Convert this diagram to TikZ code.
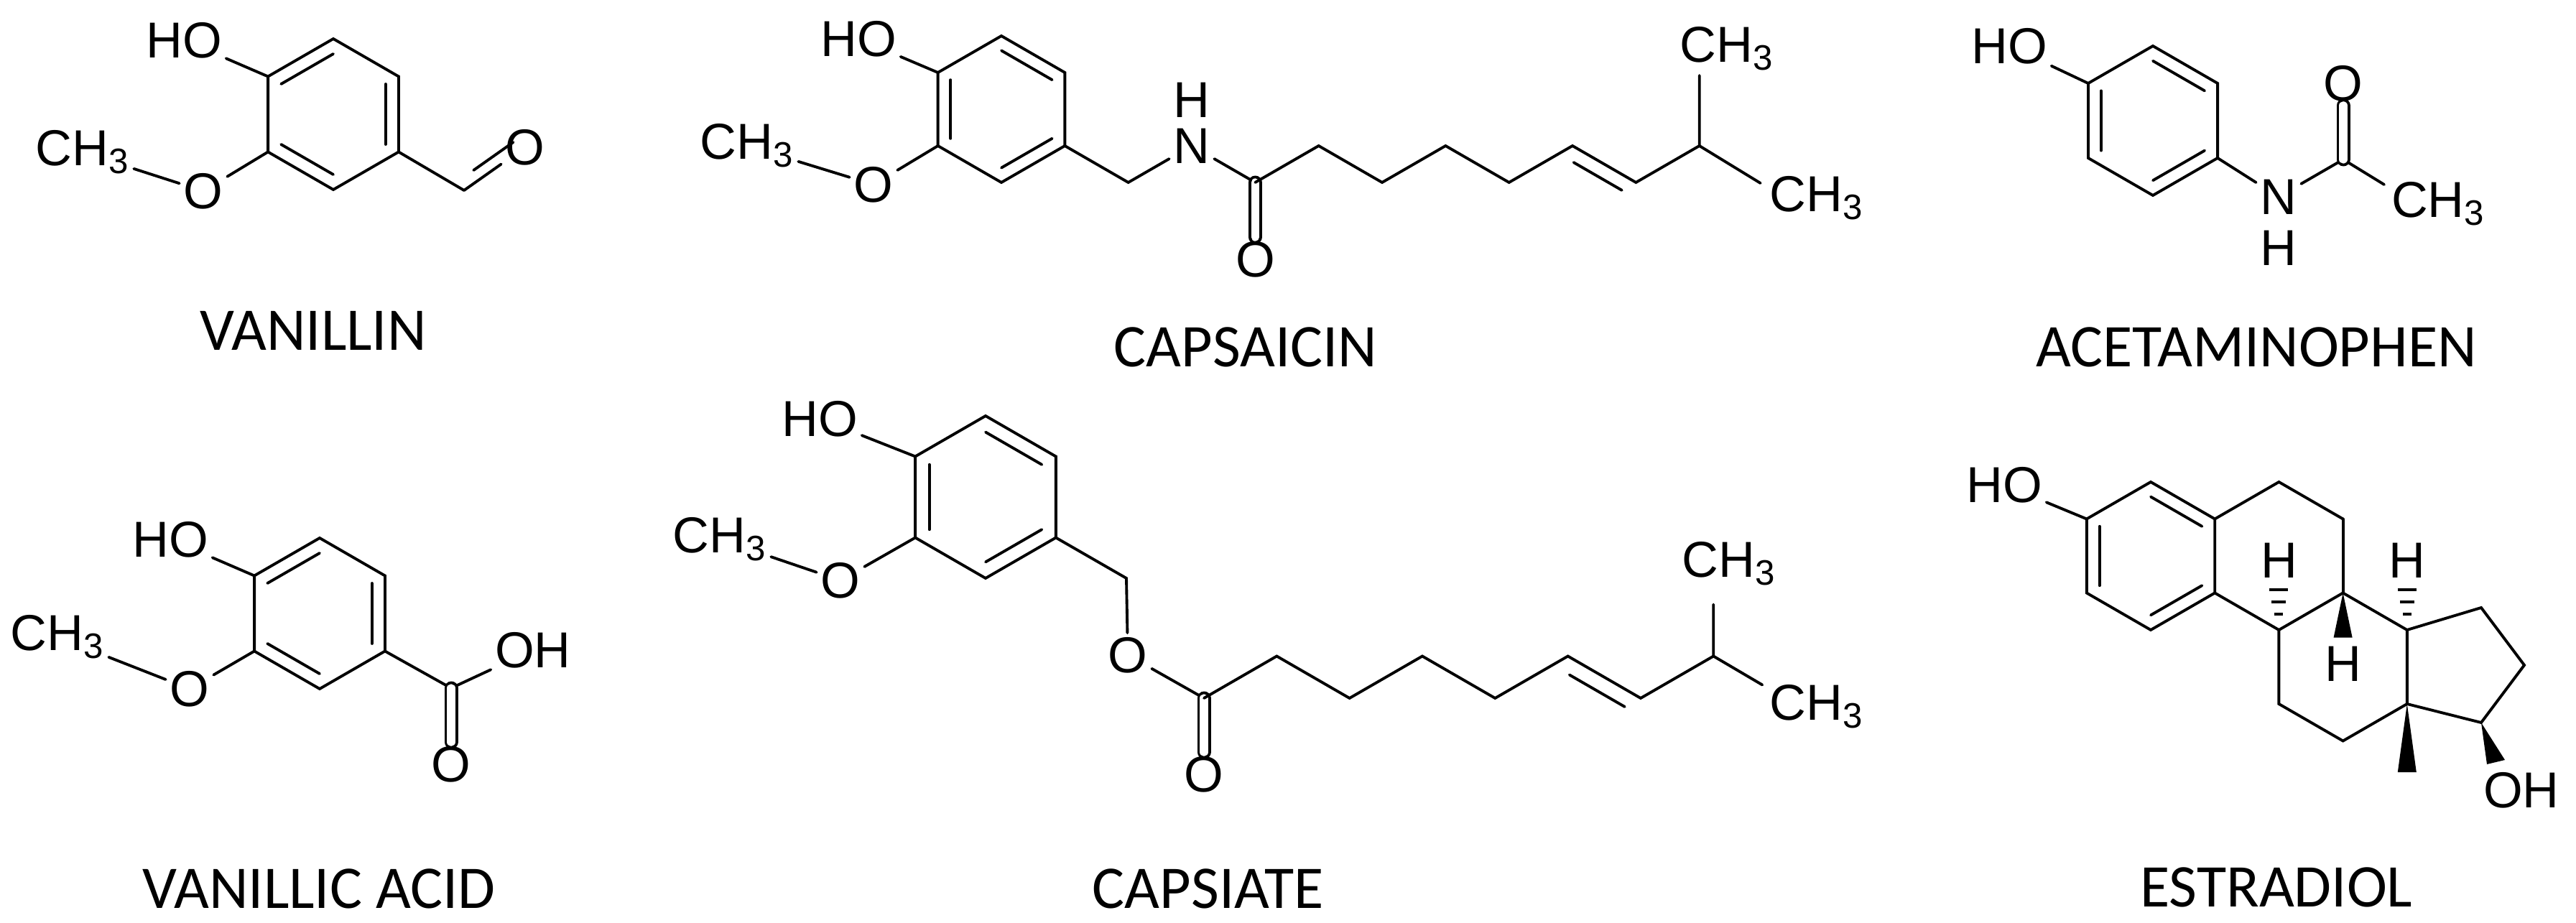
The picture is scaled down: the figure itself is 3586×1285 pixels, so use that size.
\documentclass[tikz,border=0pt]{standalone}
\usepackage{fontspec}
\setmainfont{Liberation Sans}
\newfontfamily\lblfont{Carlito}
\usetikzlibrary{calc}
\newcommand\hexr[3]{\foreach \i/\a in {1/270,2/330,3/30,4/90,5/150,6/210}{\coordinate (#1\i) at ($(#2)+(\a:#3)$);}}
\newcommand\ringdraw[1]{\draw[bond] (#11)--(#12)--(#13)--(#14)--(#15)--(#16)--cycle;}
\newcommand\innerb[3]{\draw[bond] ($(#1)!0.2!(#3)$) -- ($(#2)!0.2!(#3)$);}
\begin{document}
\begin{tikzpicture}[x=0.01cm,y=-0.01cm,
  bond/.style={line width=1.1pt,line cap=round},
  dbl/.style={bond,double,double distance=3.2pt},
  atom/.style={font=\fontsize{20}{24}\selectfont,inner sep=1.5pt},
  hatom/.style={atom,inner sep=0pt},
  lbl/.style={font=\lblfont\fontsize{24}{28}\selectfont,inner sep=0pt}]
\useasboundingbox (0,0) rectangle (3586,1285);

% ---------------- VANILLIN
\coordinate (vc) at (464,159);
\hexr{v}{vc}{105}
\ringdraw{v}
\innerb{v6}{v1}{vc}\innerb{v2}{v3}{vc}\innerb{v5}{v4}{vc}
\node[atom] (vho) at (256,56) {HO};
\node[atom] (vo) at (283,266) {O};
\node[atom] (vme) at (115,212) {CH\textsubscript{3}};
\coordinate (vcc) at (646,265);
\node[atom] (vald) at (731,205) {O};
\draw[bond] (v6) -- (vho);
\draw[bond] (v5) -- (vo);
\draw[bond] (vo) -- (vme);
\draw[bond] (v3) -- (vcc);
\draw[bond] (vcc) -- (vald);
\draw[bond] ($(vcc)!0.25!(vald)+(-8,-13)$) -- ($(vcc)!0.9!(vald)+(-8,-13)$);
\node[lbl] (lv) at (436,460) {VANILLIN};

% ---------------- VANILLIC ACID
\coordinate (ac) at (445,854);
\hexr{a}{ac}{105}
\ringdraw{a}
\innerb{a6}{a1}{ac}\innerb{a2}{a3}{ac}\innerb{a5}{a4}{ac}
\node[atom] (aho) at (237,751) {HO};
\node[atom] (ao) at (264,959) {O};
\node[atom] (ame) at (80,887) {CH\textsubscript{3}};
\coordinate (acc) at (628,958);
\node[atom] (aoh) at (742,905) {OH};
\node[atom] (aco) at (628,1064) {O};
\draw[bond] (a6) -- (aho);
\draw[bond] (a5) -- (ao);
\draw[bond] (ao) -- (ame);
\draw[bond] (a3) -- (acc);
\draw[bond] (acc) -- (aoh);
\draw[dbl] (acc) -- (aco);
\node[lbl] (la) at (444,1237) {VANILLIC ACID};

% ---------------- CAPSAICIN
\coordinate (cc) at (1394,152);
\hexr{c}{cc}{102}
\ringdraw{c}
\innerb{c1}{c2}{cc}\innerb{c5}{c6}{cc}\innerb{c3}{c4}{cc}
\node[atom] (cho) at (1195,54) {HO};
\node[atom] (co) at (1216,257) {O};
\node[atom] (cme) at (1040,203) {CH\textsubscript{3}};
\coordinate (ch2) at ($(c3)+(30:102)$);
\node[atom] (cn) at ($(ch2)+(-30:102)$) {N};
\node[hatom] (cnh) at ($(cn)+(0,-64)$) {H};
\coordinate (cq0) at ($(cn)+(30:102)$);
\node[atom] (cqo) at ($(cq0)+(0,107)$) {O};
\coordinate (cq1) at ($(cq0)+(-30:102)$);
\coordinate (cq2) at ($(cq1)+(30:102)$);
\coordinate (cq3) at ($(cq2)+(-30:102)$);
\coordinate (cq4) at ($(cq3)+(30:102)$);
\coordinate (cq5) at ($(cq4)+(-30:102)$);
\coordinate (cq6) at ($(cq5)+(30:102)$);
\coordinate (cq7) at ($(cq6)+(-30:102)$);
\coordinate (cue) at ($(cq7)+(0,-98)$);
\coordinate (cle) at ($(cq7)+(85,52)$);
\node[atom,anchor=west] (cm1) at (2333,68) {CH\textsubscript{3}};
\node[atom,anchor=west] (cm2) at (2458,276) {CH\textsubscript{3}};
\draw[bond] (c6) -- (cho);
\draw[bond] (c5) -- (co);
\draw[bond] (co) -- (cme);
\draw[bond] (c3) -- (ch2) -- (cn);
\draw[bond] (cn) -- (cq0);
\draw[dbl] (cq0) -- (cqo);
\draw[bond] (cq0) -- (cq1) -- (cq2) -- (cq3) -- (cq4) -- (cq5) -- (cq6) -- (cq7) -- (cue);
\draw[bond] (cq7) -- (cle);
\draw[bond] ($(cq5)!0.12!(cq6)+(-9,17)$) -- ($(cq5)!0.88!(cq6)+(-9,17)$);
\node[lbl] (lc) at (1734,483) {CAPSAICIN};

% ---------------- CAPSIATE
\coordinate (sc) at (1372,692);
\hexr{s}{sc}{113}
\ringdraw{s}
\innerb{s1}{s2}{sc}\innerb{s5}{s6}{sc}\innerb{s3}{s4}{sc}
\node[atom] (sho) at (1141,583) {HO};
\node[atom] (so) at (1170,808) {O};
\node[atom] (sme) at (1002,751) {CH\textsubscript{3}};
\coordinate (sh2) at (1568,805);
\node[atom] (seo) at (1570,912) {O};
\coordinate (sq0) at (1676,972);
\node[atom] (sqo) at (1676,1078) {O};
\coordinate (sq1) at ($(sq0)+(-30:117)$);
\coordinate (sq2) at ($(sq1)+(30:117)$);
\coordinate (sq3) at ($(sq2)+(-30:117)$);
\coordinate (sq4) at ($(sq3)+(30:117)$);
\coordinate (sq5) at ($(sq4)+(-30:117)$);
\coordinate (sq6) at ($(sq5)+(30:117)$);
\coordinate (sq7) at ($(sq6)+(-30:117)$);
\coordinate (sue) at ($(sq7)+(0,-72)$);
\coordinate (sle) at ($(sq7)+(68,40)$);
\node[atom,anchor=west] (sm1) at (2336,785) {CH\textsubscript{3}};
\node[atom,anchor=west] (sm2) at (2458,984) {CH\textsubscript{3}};
\draw[bond] (s6) -- (sho);
\draw[bond] (s5) -- (so);
\draw[bond] (so) -- (sme);
\draw[bond] (s3) -- (sh2) -- (seo);
\draw[bond] (seo) -- (sq0);
\draw[dbl] (sq0) -- (sqo);
\draw[bond] (sq0) -- (sq1) -- (sq2) -- (sq3) -- (sq4) -- (sq5) -- (sq6) -- (sq7) -- (sue);
\draw[bond] (sq7) -- (sle);
\draw[bond] ($(sq5)!0.12!(sq6)+(-10,19)$) -- ($(sq5)!0.88!(sq6)+(-10,19)$);
\node[lbl] (ls) at (1682,1237) {CAPSIATE};

% ---------------- ACETAMINOPHEN
\coordinate (pc) at (2997,168);
\hexr{p}{pc}{104}
\ringdraw{p}
\innerb{p1}{p2}{pc}\innerb{p5}{p6}{pc}\innerb{p3}{p4}{pc}
\node[atom] (pho) at (2797,64) {HO};
\node[atom] (pn) at (3172,274) {N};
\node[hatom] (pnh) at (3172,345) {H};
\coordinate (pq) at (3262,222);
\node[atom] (pqo) at (3262,116) {O};
\coordinate (pme0) at (3319,257);
\node[atom,anchor=west] (pme) at (3323,284) {CH\textsubscript{3}};
\draw[bond] (p6) -- (pho);
\draw[bond] (p3) -- (pn);
\draw[bond] (pn) -- (pq) -- (pme0);
\draw[dbl] (pq) -- (pqo);
\node[lbl] (lp) at (3141,483) {ACETAMINOPHEN};

% ---------------- ESTRADIOL
\coordinate (ec) at (2994,774);
\hexr{e}{ec}{103}
\coordinate (fc) at (3172.4,774);
\hexr{f}{fc}{103}
\coordinate (gc) at (3261.6,928.5);
\hexr{g}{gc}{103}
\ringdraw{e}
\innerb{e1}{e2}{ec}\innerb{e5}{e6}{ec}\innerb{e3}{e4}{ec}
\draw[bond] (f2)--(f1)--(e2);
\draw[bond] (f2)--(f3);
\draw[bond] (e3)--(f4)--(f3);
\draw[bond] (g2)--(g3)--(g4)--(g5)--(g6);
\draw[bond] (g1)--(g2);
\coordinate (d1) at (3454,846);
\coordinate (d2) at (3514,926);
\coordinate (d3) at (3454,1006);
\draw[bond] (g2)--(d1)--(d2)--(d3)--(g3);
\node[atom] (eho) at (2790,675) {HO};
\draw[bond] (e6) -- (eho);
\node[hatom] (eh1) at ($(f4)+(0,-97)$) {H};
\node[hatom] (eh2) at ($(g2)+(0,-97)$) {H};
\foreach \v in {f4,g2}{
  \draw[bond,line cap=butt] ($(\v)+(-6,-22)$) -- ($(\v)+(6,-22)$);
  \draw[bond,line cap=butt] ($(\v)+(-10,-39)$) -- ($(\v)+(10,-39)$);
  \draw[bond,line cap=butt] ($(\v)+(-13,-56)$) -- ($(\v)+(13,-56)$);
}
\fill ($(f3)$) -- ($(f3)+(-13,62)$) -- ($(f3)+(13,62)$) -- cycle;
\node[hatom] (eh3) at ($(f3)+(0,99)$) {H};
\fill ($(g3)$) -- ($(g3)+(-13,95)$) -- ($(g3)+(13,95)$) -- cycle;
\fill (d3) -- ($(d3)+(8,58)$) -- ($(d3)+(33,52)$) -- cycle;
\node[atom] (eoh) at ($(d3)+(56,94)$) {OH};
\node[lbl] (le) at (3169,1235) {ESTRADIOL};
\end{tikzpicture}
\end{document}
